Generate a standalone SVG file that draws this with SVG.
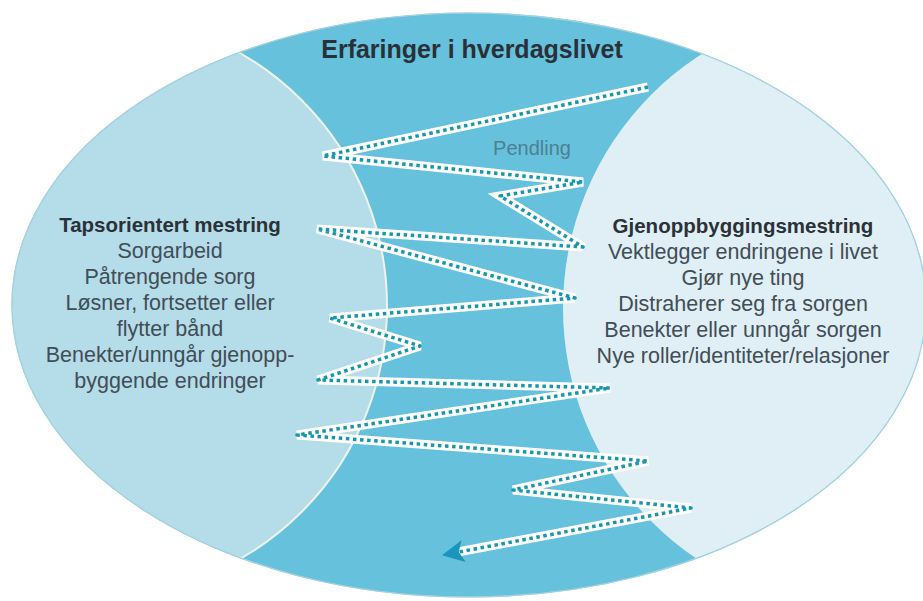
<svg xmlns="http://www.w3.org/2000/svg" width="923" height="601" viewBox="0 0 923 601">
  <style>
    text { font-family: "Liberation Sans", Arial, sans-serif; text-anchor: middle; }
    .title { font-size: 25px; font-weight: bold; fill: #2a3038; }
    .head { font-size: 20.5px; font-weight: bold; fill: #2b3136; }
    .body { font-size: 21.5px; fill: #424d55; }
    .pend { font-size: 20px; fill: #4e7f92; }
    .band { fill: none; stroke: #ffffff; stroke-width: 9; stroke-linejoin: miter; stroke-miterlimit: 3; }
    .dots { fill: none; stroke: #1697ae; stroke-width: 3.5; stroke-dasharray: 3.5 3.6; stroke-linejoin: round; }
  </style>
  <defs>
    <clipPath id="outer">
      <ellipse cx="469" cy="305" rx="457" ry="292"/>
    </clipPath>
    <marker id="arrow" markerUnits="userSpaceOnUse" viewBox="0 0 22 22" markerWidth="22" markerHeight="22" refX="21" refY="11" orient="auto">
      <path d="M0,0 L22,11 L0,22 L5,11 Z" fill="#1a95bb"/>
    </marker>
  </defs>

  <g id="middle-everyday">
    <ellipse cx="469" cy="305" rx="457" ry="292" fill="#66c1dc" stroke="#9fd0e1" stroke-width="1.2"/>
    <text class="title" x="472" y="58">Erfaringer i hverdagslivet</text>
  </g>

  <g id="loss-oriented" clip-path="url(#outer)">
    <circle cx="96" cy="306" r="291" fill="#b4dce9" stroke="#eef3ee" stroke-width="2"/>
  </g>
  <g id="restoration-oriented" clip-path="url(#outer)">
    <circle cx="865" cy="308" r="302" fill="#e0eff6"/>
  </g>
  <ellipse cx="469" cy="305" rx="457" ry="292" fill="none" stroke="#a3d1e1" stroke-width="1.2"/>

  <g id="loss-text">
    <text class="head" x="170" y="232">Tapsorientert mestring</text>
    <text class="body" x="170" y="258">Sorgarbeid</text>
    <text class="body" x="170" y="284">Påtrengende sorg</text>
    <text class="body" x="170" y="310">Løsner, fortsetter eller</text>
    <text class="body" x="170" y="336">flytter bånd</text>
    <text class="body" x="170" y="362">Benekter/unngår gjenopp-</text>
    <text class="body" x="170" y="388">byggende endringer</text>
  </g>

  <g id="restoration-text">
    <text class="head" x="743" y="233">Gjenoppbyggingsmestring</text>
    <text class="body" x="743" y="259">Vektlegger endringene i livet</text>
    <text class="body" x="743" y="285">Gjør nye ting</text>
    <text class="body" x="743" y="311">Distraherer seg fra sorgen</text>
    <text class="body" x="743" y="337">Benekter eller unngår sorgen</text>
    <text class="body" x="743" y="363">Nye roller/identiteter/relasjoner</text>
  </g>

  <g id="connectors">
    <polyline class="band" points="648,87 323,156 583,182 500,196 583,247 317,229 575,298 330,318 420,346 318,380 610,388 297,435 648,461 513,490 691,508 458,552"/>
    <polyline class="dots" points="648,87 323,156 583,182 500,196 583,247 317,229 575,298 330,318 420,346 318,380 610,388 297,435 648,461 513,490 691,508 443,555" marker-end="url(#arrow)"/>
    <text class="pend" x="532" y="155">Pendling</text>
  </g>
</svg>
